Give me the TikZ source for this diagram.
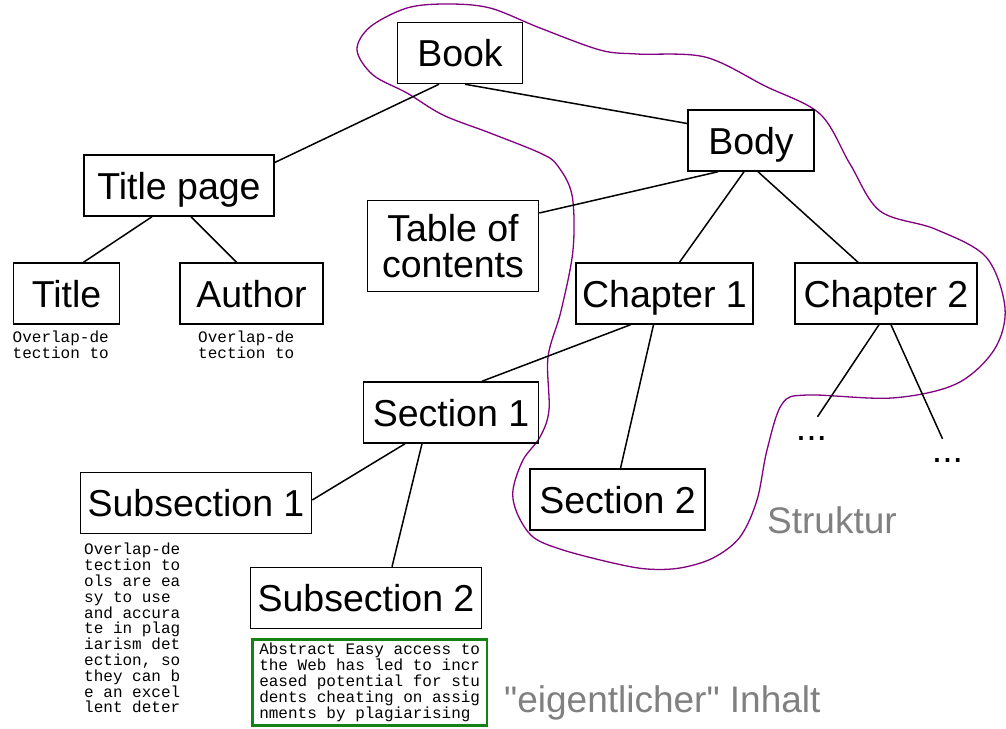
\documentclass[tikz,border=0pt]{standalone}
\usepackage{fontspec}
\setmainfont{Liberation Sans}[Ligatures=TeXOff]
\setmonofont{Liberation Mono}
\definecolor{hullpurple}{RGB}{128,0,128}
\definecolor{abstractgreen}{RGB}{20,130,20}
\definecolor{labelgray}{RGB}{128,128,128}
\begin{document}
\begin{tikzpicture}[x=1pt, y=-1pt]
    \tikzstyle{box}   = [shape=rectangle, draw, line width=1.5pt, align=center, minimum height=61pt, inner sep=0pt, font=\fontsize{37.5}{36}\selectfont]
    \tikzstyle{word}  = [box, text height=27pt, text depth=0pt]
    \tikzstyle{edge}  = [line width=1.5pt]
    \tikzstyle{more}  = [inner sep=0pt, text height=23pt, text depth=0pt, anchor=base, font=\fontsize{37.5}{36}\selectfont]
    \tikzstyle{snip}  = [inner sep=0pt, anchor=north west, align=left, font=\fontsize{16}{15.8}\ttfamily]
    \tikzstyle{note}  = [inner sep=0pt, anchor=base west, text=labelgray, font=\fontsize{37}{37}\selectfont]

    \useasboundingbox (0,0) rectangle (1006,728);

    \draw[hullpurple, line width=1.3pt] plot[smooth cycle, tension=0.55] coordinates {
        (447,4) (490,8) (540,28) (600,50) (637,54) (705,57) (765,86) (820,114) (850,164)
        (880,211) (935,229) (986,257) (1005,308) (994,350) (956,384) (892,398) (807,395)
        (782,404) (767,450) (757,500) (740,537) (713,558) (680,568) (647,569) (613,563)
        (563,550) (533,537) (517,513) (513,490) (523,460) (540,437) (549,410) (548,357)
        (561,311) (573,250) (572,195) (557,165) (540,153) (490,133) (443,115) (407,93)
        (373,75) (357,50) (370,27) (407,8)};

    \node[word, minimum width=125pt] (book)      at (460,53)      {Book};
    \node[word, minimum width=126pt] (body)      at (751,140.5)   {Body};
    \node[word, minimum width=190pt] (titlepage) at (179,185.5)   {Title page};
    \node[box,  minimum width=171pt, minimum height=91pt] (toc) at (453,246) {Table of\\contents};
    \node[word, minimum width=106pt] (title)     at (66.5,293.5)  {Title};
    \node[word, minimum width=143pt] (author)    at (251.5,293.5) {Author};
    \node[word, minimum width=177pt] (chap1)     at (664.5,293.5) {Chapter 1};
    \node[word, minimum width=182pt] (chap2)     at (886,293.5)   {Chapter 2};
    \node[word, minimum width=175pt] (sec1)      at (451,412.5)   {Section 1};
    \node[word, minimum width=175pt] (sec2)      at (617.5,499.5) {Section 2};
    \node[word, minimum width=231pt] (subsec1)   at (196,503)     {Subsection 1};
    \node[word, minimum width=231pt] (subsec2)   at (366,598)     {Subsection 2};

    \node[more] (dotsa) at (811.5,440) {...};
    \node[more] (dotsb) at (947.5,462) {...};

    \node[snip] (titletxt)   at (12.5,331) {Overlap-de\\tection to};
    \node[snip] (authortxt)  at (198,331)  {Overlap-de\\tection to};
    \node[snip] (subsec1txt) at (84,543)   {Overlap-de\\tection to\\ols are ea\\sy to use\\and accura\\te in plag\\iarism det\\ection, so\\they can b\\e an excel\\lent deter};
    \node[snip, draw=abstractgreen, line width=2.5pt, inner xsep=7pt, inner ysep=4pt] (abstract) at (251,638)
        {Abstract Easy access to\\the Web has led to incr\\eased potential for stu\\dents cheating on assig\\nments by plagiarising};

    \node[note] (struktur) at (767,533) {Struktur};
    \node[note] (inhalt)   at (504,712) {"eigentlicher" Inhalt};

    \draw[edge] ([xshift=-21pt]book.south)      -- ([yshift=23pt]titlepage.east);
    \draw[edge] ([xshift=5pt]book.south)        -- ([yshift=17pt]body.west);
    \draw[edge] ([xshift=-27pt]titlepage.south) -- ([xshift=17pt]title.north);
    \draw[edge] ([xshift=12pt]titlepage.south)  -- ([xshift=-15pt]author.north);
    \draw[edge] ([xshift=-33pt]body.south)      -- ([yshift=33pt]toc.east);
    \draw[edge] ([xshift=-7pt]body.south)       -- ([xshift=15pt]chap1.north);
    \draw[edge] ([xshift=7pt]body.south)        -- ([xshift=-28pt]chap2.north);
    \draw[edge] ([xshift=-34pt]chap1.south)     -- ([xshift=31pt]sec1.north);
    \draw[edge] ([xshift=-11pt]chap1.south)     -- ([xshift=3pt]sec2.north);
    \draw[edge] ([xshift=-7pt]chap2.south)      -- ([xshift=6pt]dotsa.north);
    \draw[edge] ([xshift=5pt]chap2.south)       -- ([xshift=-5pt]dotsb.north);
    \draw[edge] ([xshift=-46pt]sec1.south)      -- ([yshift=3pt]subsec1.east);
    \draw[edge] ([xshift=-29pt]sec1.south)      -- ([xshift=26pt]subsec2.north);
\end{tikzpicture}
\end{document}
